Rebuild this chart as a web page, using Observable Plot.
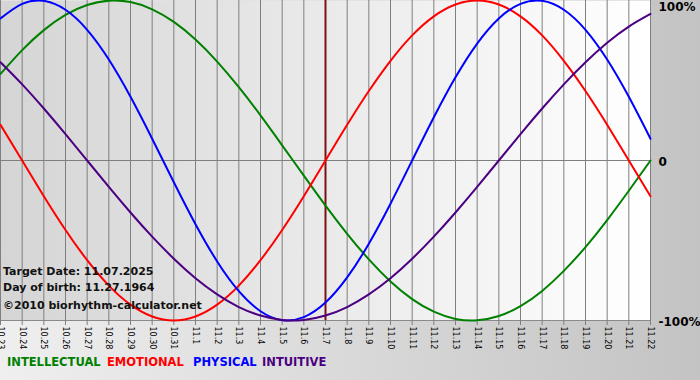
<!DOCTYPE html>
<html><head><meta charset="utf-8">
<script src="https://cdn.jsdelivr.net/npm/d3@7"></script>
<script src="https://cdn.jsdelivr.net/npm/@observablehq/plot@0.6"></script>
<style>
html,body{margin:0;padding:0;}
#wrap{position:relative;width:700px;height:380px;overflow:hidden;background:linear-gradient(to right,#efefef,#c3c3c3);font-family:"DejaVu Sans",Verdana,sans-serif;}
#chart{position:absolute;left:0;top:0;}
.info{position:absolute;left:3px;font-weight:bold;font-size:11px;line-height:11px;color:#111;white-space:nowrap;}
.leg{position:absolute;top:357px;font-weight:bold;font-size:11.5px;line-height:11.5px;white-space:nowrap;}
</style></head><body>
<div id="wrap"><div id="chart"></div></div>
<script>
// ---- data ----
const dayLabels = ["10.23","10.24","10.25","10.26","10.27","10.28","10.29","10.30","10.31",
  "11.1","11.2","11.3","11.4","11.5","11.6","11.7","11.8","11.9","11.10","11.11","11.12",
  "11.13","11.14","11.15","11.16","11.17","11.18","11.19","11.20","11.21","11.22"];
const targetDay = "11.7";
const seriesNames = ["INTELLECTUAL", "EMOTIONAL", "PHYSICAL", "INTUITIVE"];
const seriesColors = ["#008000", "#ff0000", "#0000ff", "#4b0082"];
const intellectual = [0.541,0.690,0.815,0.910,0.972,0.999,0.990,0.945,0.866,0.756,0.618,0.458,0.282,0.095,-0.095,
  -0.282,-0.458,-0.618,-0.756,-0.866,-0.945,-0.990,-0.999,-0.972,-0.910,-0.815,-0.690,-0.541,-0.372,-0.189,0];
const emotional = [0.223,0,-0.223,-0.434,-0.623,-0.782,-0.901,-0.975,-1,-0.975,-0.901,-0.782,-0.623,-0.434,-0.223,
  0,0.223,0.434,0.623,0.782,0.901,0.975,1,0.975,0.901,0.782,0.623,0.434,0.223,0,-0.223];
const physical = [0.888,0.979,0.998,0.942,0.817,0.631,0.398,0.136,-0.136,-0.398,-0.631,-0.817,-0.942,-0.998,-0.979,
  -0.888,-0.731,-0.520,-0.270,0,0.270,0.520,0.731,0.888,0.979,0.998,0.942,0.817,0.631,0.398,0.136];
const intuitive = [0.614,0.476,0.325,0.165,0,-0.165,-0.325,-0.476,-0.614,-0.736,-0.837,-0.916,-0.969,-0.997,-0.997,
  -0.969,-0.916,-0.837,-0.736,-0.614,-0.476,-0.325,-0.165,0,0.165,0.325,0.476,0.614,0.736,0.837,0.916];
const yTickValues = [1, 0, -1];
const yTickLabels = ["100%", "0", "-100%"];
const infoLines = ["Target Date: 11.07.2025", "Day of birth: 11.27.1964", "\u00A92010 biorhythm-calculator.net"];

// ---- build ----
const seriesValues = [intellectual, emotional, physical, intuitive];
const rows = [];
seriesNames.forEach((name, s) => seriesValues[s].forEach((v, i) => rows.push({i, v, name})));
const idx = dayLabels.map((_, i) => i);
const target = dayLabels.indexOf(targetDay);
const yLabel = v => yTickLabels[yTickValues.indexOf(v)];

const plot = Plot.plot({
  width: 700, height: 352,
  marginLeft: 0, marginRight: 50, marginTop: 0, marginBottom: 32,
  style: {background: "transparent", overflow: "visible", fontFamily: "DejaVu Sans, Verdana, sans-serif"},
  x: {domain: [0, dayLabels.length - 1], axis: null},
  y: {domain: [-1, 1], axis: null},
  color: {domain: seriesNames, range: seriesColors},
  marks: [
    Plot.frame({fill: "url(#plotbg)", stroke: "none"}),
    Plot.ruleX(idx, {stroke: "#7f7f7f", strokeWidth: 1}),
    Plot.ruleY([0], {stroke: "#7f7f7f"}),
    Plot.ruleY([-1], {stroke: "#8a8a8a"}),
    Plot.axisX({ticks: idx, tickFormat: i => dayLabels[i], tickRotate: 90, tickSize: 5, tickPadding: 1,
      fontSize: 8, stroke: "#7f7f7f", fill: "#000", label: null}),
    Plot.ruleX([target], {stroke: "#7b1113", strokeWidth: 2}),
    Plot.line(rows, {x: "i", y: "v", z: "name", stroke: "name", strokeWidth: 2, curve: "natural"}),
    Plot.axisY({anchor: "right", ticks: yTickValues.slice(1), tickFormat: yLabel, tickSize: 0, tickPadding: 8,
      dy: 2, fontSize: 12, fontWeight: "bold", fill: "#000", label: null}),
    Plot.axisY({anchor: "right", ticks: yTickValues.slice(0, 1), tickFormat: yLabel, tickSize: 0, tickPadding: 8,
      dy: 7, fontSize: 12, fontWeight: "bold", fill: "#000", label: null})
  ]
});
const ns = "http://www.w3.org/2000/svg";
const defs = document.createElementNS(ns, "defs");
defs.innerHTML = '<linearGradient id="plotbg" x1="0" x2="1" y1="0" y2="0"><stop offset="0" stop-color="#d5d5d5"/><stop offset="1" stop-color="#ffffff"/></linearGradient>';
plot.insertBefore(defs, plot.firstChild);
const wrap = document.getElementById("wrap");
document.getElementById("chart").appendChild(plot);

const infoTops = [266, 282, 300];
infoLines.forEach((t, k) => {
  const d = document.createElement("div");
  d.className = "info"; d.style.top = infoTops[k] + "px"; d.textContent = t;
  wrap.appendChild(d);
});
const legLefts = [7, 107, 193, 262];
seriesNames.forEach((n, k) => {
  const s = document.createElement("div");
  s.className = "leg"; s.style.left = legLefts[k] + "px"; s.style.color = seriesColors[k]; s.textContent = n;
  wrap.appendChild(s);
});
</script>
</body></html>
